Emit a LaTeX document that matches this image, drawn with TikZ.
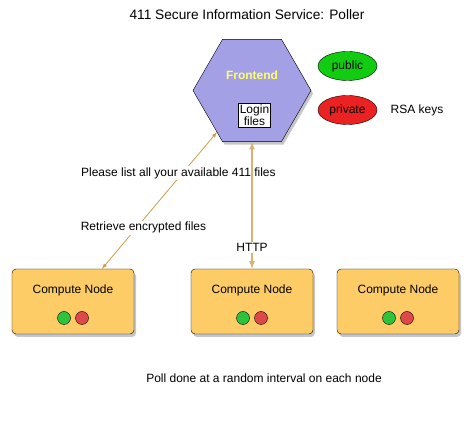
\documentclass[tikz,border=0pt]{standalone}
\usepackage{fontspec}
\setmainfont{Liberation Sans}
\definecolor{myhexblue}{RGB}{163,160,230}
\definecolor{mynodeorange}{RGB}{254,204,102}
\definecolor{mylinktan}{RGB}{206,156,72}
\definecolor{myhttptan}{RGB}{218,178,112}
\definecolor{mykeygreen}{RGB}{17,204,17}
\definecolor{mykeyred}{RGB}{236,34,34}
\definecolor{mydotgreen}{RGB}{45,196,60}
\definecolor{mydotred}{RGB}{222,72,72}
\definecolor{myfrontyellow}{RGB}{255,255,102}
\usepackage{tikz}
\usetikzlibrary{arrows,positioning,shapes.geometric,shadows,calc}

\begin{document}
\begin{tikzpicture}[
  x=1pt,y=1pt,
  font=\fontsize{12}{14}\selectfont,
  myhex/.style={
    draw,
    fill=myhexblue,
    regular polygon,
    regular polygon sides=6,
    minimum size=118pt,
    inner sep=0pt,
    drop shadow={opacity=0.45,shadow xshift=2pt,shadow yshift=-3pt}
    },
  mykey/.style={
    draw,
    ellipse,
    fill=#1,
    minimum width=59pt,
    minimum height=29pt,
    inner sep=0pt
    },
  mycompute/.style={
    draw,
    fill=mynodeorange,
    rounded corners=4pt,
    minimum width=122pt,
    minimum height=65pt,
    drop shadow={opacity=0.45,shadow xshift=2pt,shadow yshift=-3pt}
    },
  mydot/.style={
    draw,
    circle,
    fill=#1,
    minimum size=13pt,
    inner sep=0pt
    },
  mylink/.style={
    <->,
    >=latex,
    draw=mylinktan,
    line width=0.8pt
    },
  mylabel/.style={
    fill=white,
    inner sep=1.5pt
    }
]
\useasboundingbox (0,0) rectangle (471,444);

\node[font=\fontsize{13.7}{16}\selectfont] (title) at (247,429)
  {411 Secure Information Service: Poller};

% frontend with its files and keys
\node[myhex] (hex) at (252,353.5) {};
\node[text=myfrontyellow,font=\fontsize{12}{14}\selectfont\bfseries]
  (front) at (252,369) {Frontend};
\node[draw,fill=white,line width=0.4pt,inner sep=1.5pt,align=center,
  font=\fontsize{12}{12.5}\selectfont]
  (login) at (254.5,329) {Login\\files};

\node[mykey=mykeygreen] (public) at (347.5,378) {public};
\node[mykey=mykeyred] (private) at (347.5,334) {private};
\node[right=10pt of private] (rsa) {RSA keys};

% compute nodes
\foreach \Num/\Posx in {1/73,2/252,3/398}
{
  \node[mycompute] (cn\Num) at (\Posx,142.5) {};
  \node (cn\Num label) at ([yshift=11.5pt]cn\Num.center) {Compute Node};
  \node[mydot=mydotgreen] (cn\Num g) at ([xshift=-9pt,yshift=-16.5pt]cn\Num.center) {};
  \node[mydot=mydotred] (cn\Num r) at ([xshift=9pt,yshift=-16.5pt]cn\Num.center) {};
}

\coordinate (cn1top) at ([xshift=29pt]cn1.north);

\draw[mylink] (cn1top) -- (hex)
  node[mylabel,pos=0.3,xshift=7pt] (retrieve) {Retrieve encrypted files}
  node[mylabel,pos=0.7,xshift=-4pt] (please) {Please list all your available 411 files};

\draw[mylink,draw=myhttptan,line width=1.6pt] (cn2.north) -- (hex.south)
  node[mylabel,pos=0.17] (http) {HTTP};

\node (poll) at (264,66) {Poll done at a random interval on each node};

\end{tikzpicture}
\end{document}
